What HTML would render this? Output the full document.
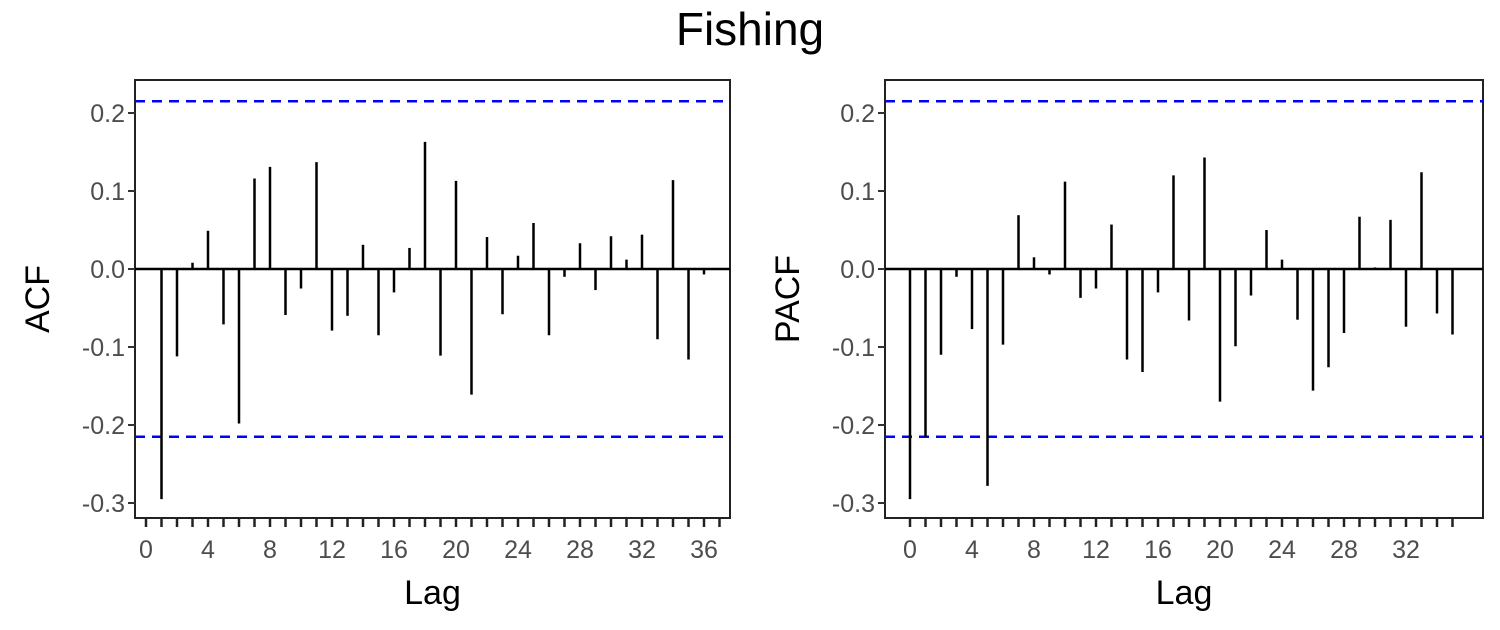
<!DOCTYPE html>
<html><head><meta charset="utf-8"><style>
html,body{margin:0;padding:0;background:#fff;}
svg{display:block;font-family:"Liberation Sans",sans-serif;}
</style></head><body>
<svg id="chart" width="1500" height="630" viewBox="0 0 1500 630">
<text x="750" y="45" text-anchor="middle" font-size="46" fill="#000">Fishing</text>
<g id="left"></g>
<g id="right"></g>
</svg>
<script>
const acfLags = [1,2,3,4,5,6,7,8,9,10,11,12,13,14,15,16,17,18,19,20,21,22,23,24,25,26,27,28,29,30,31,32,33,34,35,36];
const acfValues = [-0.295,-0.112,0.008,0.049,-0.071,-0.198,0.116,0.131,-0.059,-0.025,0.137,-0.079,-0.060,0.031,-0.085,-0.030,0.027,0.163,-0.111,0.113,-0.161,0.041,-0.058,0.017,0.059,-0.085,-0.010,0.033,-0.027,0.042,0.012,0.044,-0.090,0.114,-0.116,-0.007];
const pacfLags = [0,1,2,3,4,5,6,7,8,9,10,11,12,13,14,15,16,17,18,19,20,21,22,23,24,25,26,27,28,29,30,31,32,33,34,35];
const pacfValues = [-0.295,-0.215,-0.110,-0.010,-0.077,-0.278,-0.097,0.069,0.015,-0.007,0.112,-0.037,-0.025,0.057,-0.116,-0.132,-0.030,0.120,-0.066,0.143,-0.170,-0.099,-0.034,0.050,0.012,-0.065,-0.156,-0.126,-0.082,0.067,0.002,0.063,-0.074,0.124,-0.057,-0.084];
const confBound = 0.215;
const yTicks = [-0.3,-0.2,-0.1,0.0,0.1,0.2];
const acfXTicks = [0,4,8,12,16,20,24,28,32,36];
const pacfXTicks = [0,4,8,12,16,20,24,28,32];
const NS="http://www.w3.org/2000/svg";
function mk(tag, attrs, parent){const e=document.createElementNS(NS,tag);for(const k in attrs)e.setAttribute(k,attrs[k]);parent.appendChild(e);return e;}
function panel(g, left, right, x0, lags, vals, xticks, maxTick, ytitle){
  const top=80,bottom=518;
  const xs=l=>x0+l*15.5;
  const ys=v=>269-v*780;
  const box=mk('rect',{x:left,y:top,width:right-left,height:bottom-top,fill:'none',stroke:'#222','stroke-width':2},g);
  
  
  yTicks.forEach(t=>{
    const tk=mk('line',{x1:left-7,x2:left,y1:ys(t),y2:ys(t),stroke:'#333','stroke-width':2},g);
    
    
    const tl=mk('text',{x:left-10,y:ys(t)+9,'text-anchor':'end','font-size':25,fill:'#4d4d4d'},g);
    tl.textContent=t.toFixed(1);
    
    
  });
  const zl=mk('line',{x1:left,x2:right,y1:ys(0),y2:ys(0),stroke:'#000','stroke-width':2.5},g);
  
  
  [confBound,-confBound].forEach(c=>{
    const cl=mk('line',{x1:left,x2:right,y1:ys(c),y2:ys(c),stroke:'#0000ff','stroke-width':2.5,'stroke-dasharray':'10,7'},g);
    
    
  });
  lags.forEach((l,i)=>{
    const b=mk('line',{x1:xs(l),x2:xs(l),y1:ys(0),y2:ys(vals[i]),stroke:'#000','stroke-width':2.5},g);
    
    
  });
  for(let l=0;l<=maxTick;l++){
    const t=mk('line',{x1:xs(l),x2:xs(l),y1:bottom,y2:bottom+9,stroke:'#222','stroke-width':2.5},g);
    
    
  }
  xticks.forEach(l=>{
    const tl=mk('text',{x:xs(l),y:bottom+40,'text-anchor':'middle','font-size':25,fill:'#4d4d4d'},g);
    tl.textContent=l;
    
    
  });
  const xt=mk('text',{x:(left+right)/2,y:604,'text-anchor':'middle','font-size':34,fill:'#000'},g);
  xt.textContent='Lag';
  
  
  const yt=mk('text',{x:0,y:0,'text-anchor':'middle','font-size':34,fill:'#000',transform:`translate(${left-86},${(top+bottom)/2}) rotate(-90)`},g);
  yt.textContent=ytitle;
  
  
}
panel(document.getElementById('left'),135,730,146,acfLags,acfValues,acfXTicks,37,'ACF');
panel(document.getElementById('right'),885,1483,910,pacfLags,pacfValues,pacfXTicks,35,'PACF');
</script>
</body></html>
